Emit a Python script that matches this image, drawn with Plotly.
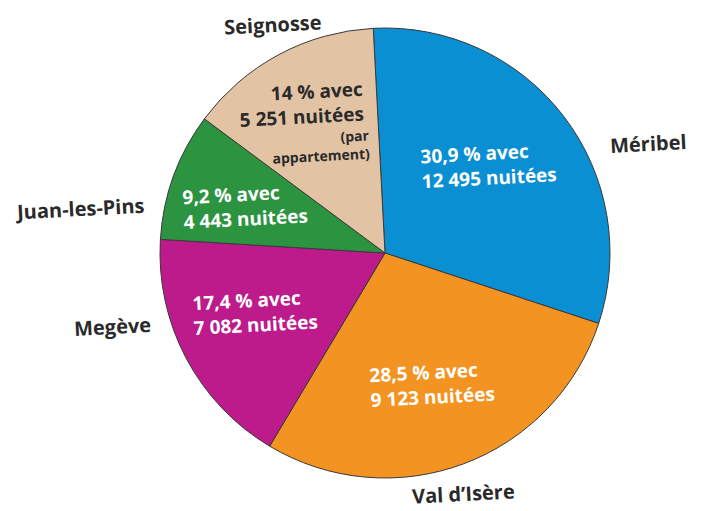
import math
import plotly.graph_objects as go

# ---- data ----
stations = ["Méribel", "Val d’Isère", "Megève", "Juan-les-Pins", "Seignosse"]
parts = [30.9, 28.5, 17.4, 9.2, 14.0]
part_labels = ["30,9", "28,5", "17,4", "9,2", "14"]
nuitees = ["12 495", "9 123", "7 082", "4 443", "5 251"]
notes = ["", "", "", "", "(par<br>appartement)"]

# ---- style ----
colors = ["#0a8fd3", "#f39322", "#bd1a8b", "#2c9341", "#e2c4a5"]
text_colors = ["white", "white", "white", "white", "#2a2a2a"]
W, H = 703, 511
PAGE_OFF = 8  # page body margin
CX, CY, R = 385 - PAGE_OFF, 253 - PAGE_OFF, 225
ROT = -3
FONT = "Open Sans"

fig = go.Figure(go.Pie(
    labels=stations, values=parts, sort=False, direction="clockwise",
    rotation=ROT, textinfo="none", hoverinfo="label+percent",
    marker=dict(colors=colors, line=dict(color="#3a3a3a", width=1)),
    domain=dict(x=[(CX - R) / W, (CX + R) / W], y=[(H - CY - R) / H, (H - CY + R) / H]),
    showlegend=False,
))

def to_paper(angle_deg, r_px):
    a = math.radians(angle_deg)
    return (CX + r_px * math.sin(a)) / W, (H - (CY - r_px * math.cos(a))) / H

# slice mid angles from the data
total = sum(parts)
mids = []
acc = ROT
for v in parts:
    span = v / total * 360
    mids.append(acc + span / 2)
    acc += span

in_off = [-2.8, 0.9, 3.4, -1.8, 20.6]
in_rad = [0.60, 0.62, 0.635, 0.655, 0.668]
in_anchor = ["center", "center", "center", "center", "right"]
note_off = [0, 0, 0, 0, 21.2]
note_rad = [0, 0, 0, 0, 0.475]
out_off = [14.7, 2.3, 12.8, -11.8, 2.1]
out_rad = [285, 253, 282, 308, 255]

ann = []
for i, name in enumerate(stations):
    x, y = to_paper(mids[i] + in_off[i], in_rad[i] * R)
    txt = f"{part_labels[i]} % avec<br>{nuitees[i]} nuitées"
    ann.append(dict(x=x, y=y, xref="paper", yref="paper", text=txt, showarrow=False,
                    xanchor=in_anchor[i], yanchor="middle", borderpad=0,
                    align="right" if notes[i] else "left", textangle=-3,
                    font=dict(family=FONT, size=19, color=text_colors[i], weight=700)))
    if notes[i]:
        x, y = to_paper(mids[i] + note_off[i], note_rad[i] * R)
        ann.append(dict(x=x, y=y, xref="paper", yref="paper", text=notes[i], showarrow=False,
                        xanchor="right", yanchor="middle", borderpad=0,
                        align="right", textangle=-3,
                        font=dict(family=FONT, size=14, color=text_colors[i], weight=700)))
    x, y = to_paper(mids[i] + out_off[i], out_rad[i])
    ann.append(dict(x=x, y=y, xref="paper", yref="paper", text=name, showarrow=False,
                    xanchor="center", yanchor="middle", textangle=-3, borderpad=0,
                    font=dict(family=FONT, size=20, color="#2a2a2a", weight=700)))

fig.update_layout(width=W, height=H, margin=dict(l=0, r=0, t=0, b=0),
                  paper_bgcolor="white", plot_bgcolor="white", annotations=ann)
fig.write_html("out.html")
